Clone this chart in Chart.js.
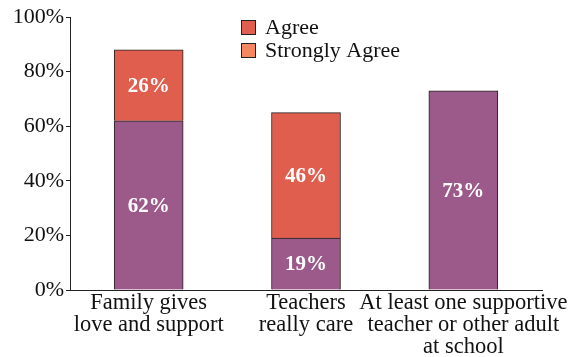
<!DOCTYPE html>
<html>
<head>
<meta charset="utf-8">
<script src="https://cdn.jsdelivr.net/npm/chart.js@4.4.1/dist/chart.umd.min.js"></script>
<style>
  html, body { margin: 0; padding: 0; background: #fff; }
  #wrap { width: 587px; height: 357px; }
</style>
</head>
<body>
<div id="wrap"><canvas id="supportChart"></canvas></div>
<script>
// categories and values (percent)
var categories = [
    ['Family gives', 'love and support'],
    ['Teachers', 'really care'],
    ['At least one supportive', 'teacher or other adult', 'at school']
];
var baseValues = [62, 19, 73];
var agreeValues = [26, 46, 0];
var yTicks = [0, 20, 40, 60, 80, 100];
var legendNames = ['Agree', 'Strongly Agree'];

var purple = '#9b5a8a';
var red = '#e05e4e';
var salmon = '#f4875f';
var serif = '"Liberation Serif", "DejaVu Serif", serif';

// white percentage labels inside each bar segment
var segmentLabels = {
    id: 'segmentLabels',
    afterDatasetsDraw: function(chart) {
        var ctx = chart.ctx;
        ctx.save();
        ctx.fillStyle = '#fff';
        ctx.font = 'bold 21px ' + serif;
        ctx.textAlign = 'center';
        ctx.textBaseline = 'middle';
        chart.data.datasets.forEach(function(ds, di) {
            chart.getDatasetMeta(di).data.forEach(function(bar, i) {
                var v = ds.data[i];
                if (!v) return;
                ctx.fillText(v + '%', bar.x, (bar.y + bar.base) / 2 + 1);
            });
        });
        ctx.restore();
    }
};

// legend box with two swatches
var boxLegend = {
    id: 'boxLegend',
    afterDraw: function(chart) {
        var ctx = chart.ctx;
        var colors = [red, salmon];
        ctx.save();
        ctx.font = '22px ' + serif;
        ctx.textBaseline = 'middle';
        legendNames.forEach(function(name, i) {
            var y = 20 + i * 23;
            ctx.fillStyle = colors[i];
            ctx.fillRect(241, y, 15, 15);
            ctx.strokeStyle = '#222';
            ctx.lineWidth = 1;
            ctx.strokeRect(241.5, y + 0.5, 14, 14);
            ctx.fillStyle = '#111';
            ctx.fillText(name, 265, y + 8);
        });
        ctx.restore();
    }
};

var chart = new Chart(document.getElementById('supportChart'), {
    type: 'bar',
    data: {
        labels: categories,
        datasets: [{
            label: 'Base',
            data: baseValues,
            backgroundColor: purple,
            borderColor: '#222',
            borderWidth: 1,
            barThickness: 69
        }, {
            label: legendNames[0],
            data: agreeValues,
            backgroundColor: red,
            borderColor: '#222',
            borderWidth: 1,
            barThickness: 69
        }]
    },
    plugins: [segmentLabels, boxLegend],
    options: {
        responsive: true,
        maintainAspectRatio: false,
        animation: false,
        layout: { padding: { top: 17, right: 45, left: 0, bottom: 0 } },
        plugins: {
            legend: { display: false },
            tooltip: { enabled: false }
        },
        scales: {
            x: {
                stacked: true,
                grid: { display: false, tickLength: 0 },
                border: { display: true, color: '#222', width: 1 },
                ticks: {
                    color: '#111',
                    font: { family: serif, size: 22.5, lineHeight: 0.98 },
                    padding: 2,
                    maxRotation: 0,
                    autoSkip: false
                },
                afterFit: function(s) { s.height = 67; }
            },
            y: {
                stacked: true,
                min: 0,
                max: 100,
                afterBuildTicks: function(s) {
                    s.ticks = yTicks.map(function(v) { return { value: v }; });
                },
                grid: { display: true, drawOnChartArea: false, drawTicks: true, tickLength: 4, color: '#222' },
                border: { display: true, color: '#222', width: 1 },
                ticks: {
                    color: '#111',
                    font: { family: serif, size: 22 },
                    padding: 2,
                    callback: function(v) { return v + '%'; }
                },
                afterFit: function(s) { s.width = 70; }
            }
        }
    }
});
</script>
</body>
</html>
